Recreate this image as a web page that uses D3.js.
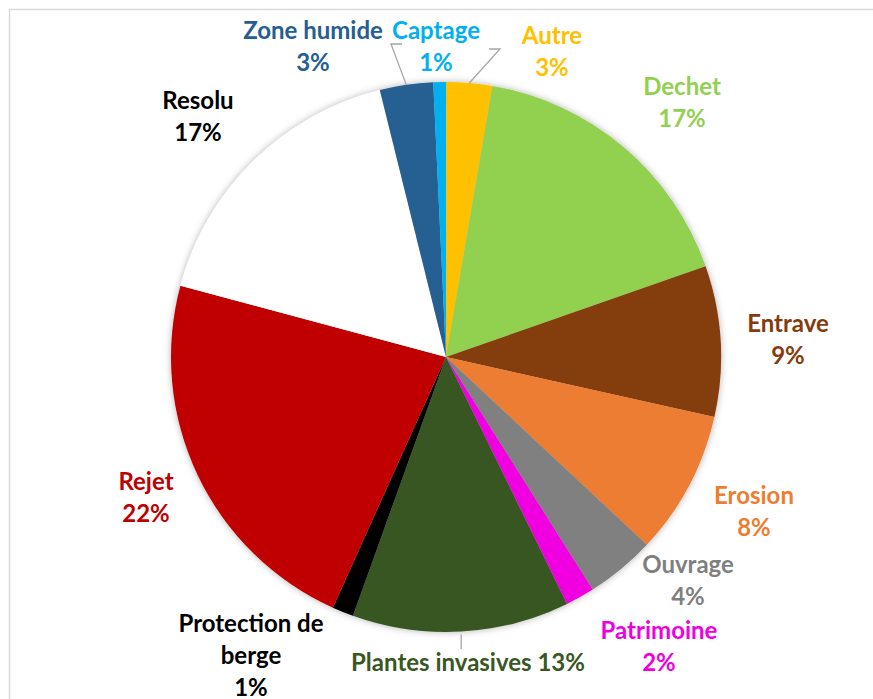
<!DOCTYPE html>
<html>
<head>
<meta charset="utf-8">
<script src="https://cdn.jsdelivr.net/npm/d3@7"></script>
<style>
  html, body { margin: 0; padding: 0; background: #fff; }
  svg { display: block; }
  .lbl { font-family: Lato, "Open Sans", sans-serif; font-weight: 700; font-size: 24px; }
</style>
</head>
<body>
<div id="chart"></div>
<script>
(function() {

    // slices, clockwise from 12 o'clock (share of reports, %)
    var categories = ["Autre", "Dechet", "Entrave", "Erosion", "Ouvrage", "Patrimoine",
        "Plantes invasives", "Protection de berge", "Rejet", "Resolu", "Zone humide", "Captage"];
    var values = [2.7, 16.95, 8.85, 8.46, 4.08, 1.7, 12.75, 1.25, 22.43, 16.95, 3.13, 0.74];

    var sliceColors = ["#FFC000", "#92D050", "#843C0C", "#ED7D31", "#808080", "#F000E0",
        "#385723", "#000000", "#C00000", "#FFFFFF", "#255E91", "#00B0F0"];
    var textColors = ["#FFC000", "#92D050", "#843C0C", "#ED7D31", "#7F7F7F", "#F000E0",
        "#385723", "#000000", "#C00000", "#000000", "#255E91", "#00B0F0"];

    // label placement: [dx, dy of first baseline from pie centre, lines]
    var labelPos = [
        [106, -313, 2], [236, -262, 2], [342, -25, 2], [308, 147, 2],
        [242, 216, 2], [213, 282, 2], [22, 314, 1], [-195, 275, 3],
        [-300, 133, 2], [-248, -248, 2], [-133, -318, 2], [-10, -318, 2]
    ];
    // labels with leader lines: index -> elbow x offset from the label anchor
    var leaders = { 0: -52, 10: 78, 6: 0 };

    var width = 873, height = 699;
    var cx = 446, cy = 357, radius = 275;
    var lineGap = 32;

    var svg = d3.select("#chart")
        .append("svg")
        .attr("width", width)
        .attr("height", height);

    var defs = svg.append("defs");
    var f = defs.append("filter").attr("id", "glow")
        .attr("x", "-10%").attr("y", "-10%").attr("width", "120%").attr("height", "120%");
    f.append("feDropShadow")
        .attr("dx", 0).attr("dy", 0)
        .attr("stdDeviation", 3.5)
        .attr("flood-color", "#000")
        .attr("flood-opacity", 0.3);

    // chart frame
    svg.append("rect")
        .attr("x", 9.5).attr("y", 9.5)
        .attr("width", width + 20).attr("height", height + 20)
        .attr("fill", "#fff")
        .attr("stroke", "#D9D9D9")
        .attr("stroke-width", 1.5);

    var total = d3.sum(values);
    var data = categories.map(function(c, i) {
        return { name: c, value: values[i], i: i };
    });

    var pie = d3.pie()
        .sort(null)
        .value(function(d) { return d.value; });
    var arcs = pie(data);

    var arc = d3.arc().innerRadius(0).outerRadius(radius);

    var g = svg.append("g")
        .attr("transform", "translate(" + cx + "," + cy + ")");

    var pieG = g.append("g").attr("filter", "url(#glow)");
    pieG.selectAll("path.slice")
        .data(arcs)
        .enter()
        .append("path")
        .attr("class", "slice")
        .attr("d", arc)
        .attr("fill", function(d) { return sliceColors[d.data.i]; });

    function edgePoint(d) {
        var a = (d.startAngle + d.endAngle) / 2;
        return [Math.sin(a) * radius, -Math.cos(a) * radius];
    }

    // leader lines
    arcs.forEach(function(d) {
        var k = d.data.i;
        if (!(k in leaders)) return;
        var p = labelPos[k], e = edgePoint(d), pts;
        if (k === 6) {
            pts = [[e[0], e[1] + 3], [e[0], p[1] - 22]];
        } else {
            var side = leaders[k] < 0 ? -1 : 1;
            var y0 = p[1] + 5;
            var x0 = p[0] + leaders[k];
            pts = [[x0 + side * 11, y0], [x0, y0], [e[0], e[1]]];
        }
        g.append("path")
            .attr("d", d3.line()(pts))
            .attr("fill", "none")
            .attr("stroke", "#A6A6A6")
            .attr("stroke-width", 1.3);
    });

    // data labels
    arcs.forEach(function(d) {
        var k = d.data.i;
        var p = labelPos[k];
        var pct = Math.round(d.data.value / total * 100) + "%";
        var lines;
        if (p[2] === 1) lines = [d.data.name + " " + pct];
        else if (p[2] === 3) lines = ["Protection de", "berge", pct];
        else lines = [d.data.name, pct];
        var t = g.append("text")
            .attr("class", "lbl")
            .attr("text-anchor", "middle")
            .attr("fill", textColors[k]);
        lines.forEach(function(s, j) {
            t.append("tspan")
                .attr("x", p[0])
                .attr("y", p[1] + j * lineGap)
                .text(s);
        });
    });

})();
</script>
</body>
</html>
